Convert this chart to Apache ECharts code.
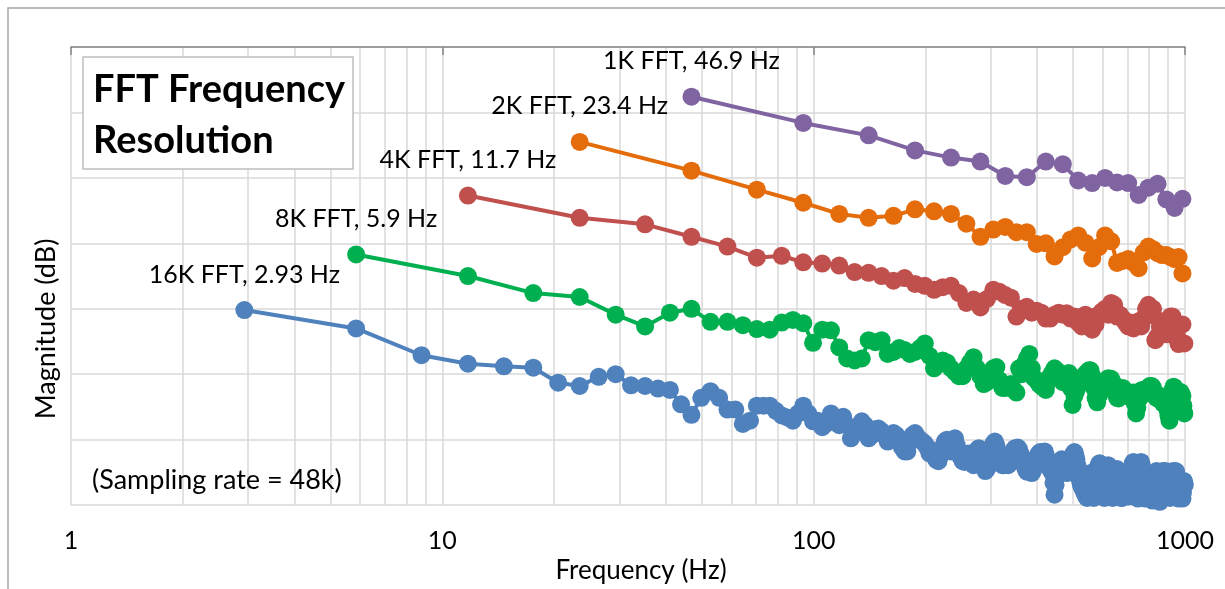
<!DOCTYPE html>
<html>
<head>
<meta charset="utf-8">
<script src="https://cdn.jsdelivr.net/npm/echarts@6/dist/echarts.min.js"></script>
<style>
  html, body { margin: 0; padding: 0; background: #fff; }
  #container { width: 1225px; height: 589px; }
</style>
</head>
<body>
<div id="container"></div>
<script>
var dom = document.getElementById("container");
var myChart = echarts.init(dom);

// FFT sizes, labels and bin widths (Hz)
var fftNames = ['16K FFT, 2.93 Hz', '8K FFT, 5.9 Hz', '4K FFT, 11.7 Hz', '2K FFT, 23.4 Hz', '1K FFT, 46.9 Hz'];
var binWidths = [2.9296875, 5.859375, 11.71875, 23.4375, 46.875];

// magnitudes (dB) per bin
var mag16k = [
  -40.2,-43.0,-47.1,-48.4,-48.8,-49.0,-51.3,-51.8,-50.4,-50.0,
  -51.7,-51.8,-52.2,-52.4,-54.6,-56.2,-53.6,-52.6,-53.6,-55.4,
  -55.4,-57.6,-57.1,-54.8,-54.8,-54.8,-55.6,-56.3,-56.6,-57.1,
  -56.0,-54.8,-56.0,-57.2,-57.1,-58.1,-57.5,-56.0,-56.6,-57.8,
  -56.5,-57.8,-59.8,-59.0,-58.1,-57.2,-57.8,-59.8,-59.3,-58.4,
  -58.3,-58.7,-59.3,-60.3,-59.6,-59.0,-59.3,-60.3,-61.2,-61.8,
  -61.8,-60.3,-59.3,-59.0,-59.6,-60.0,-60.3,-60.6,-61.2,-62.1,
  -61.6,-62.4,-63.1,-63.3,-62.4,-61.2,-60.3,-60.0,-60.9,-61.8,
  -60.3,-59.8,-60.9,-62.1,-62.7,-63.3,-63.4,-62.7,-62.1,-62.8,
  -63.3,-63.9,-62.7,-61.6,-61.3,-62.1,-63.6,-64.2,-64.8,-64.5,
  -63.9,-62.7,-61.6,-60.6,-60.3,-60.9,-61.8,-62.7,-63.6,-63.9,
  -63.9,-63.6,-63.3,-63.9,-63.6,-62.7,-62.1,-61.6,-61.3,-61.8,
  -61.2,-61.5,-62.1,-62.7,-63.3,-63.9,-64.5,-64.9,-64.8,-64.2,
  -64.5,-65.1,-64.8,-63.9,-63.3,-62.7,-62.4,-62.1,-61.9,-62.4,
  -62.7,-62.1,-61.8,-62.4,-63.0,-63.9,-64.2,-64.5,-64.8,-65.1,
  -66.6,-68.4,-66.9,-64.8,-63.9,-63.6,-63.3,-63.3,-63.0,-63.3,
  -63.9,-64.2,-64.6,-65.1,-64.8,-64.2,-63.6,-63.0,-62.7,-62.4,
  -62.1,-61.9,-62.4,-63.0,-63.9,-65.1,-65.7,-66.3,-66.9,-67.2,
  -67.5,-67.8,-68.1,-68.4,-68.7,-68.9,-68.1,-66.9,-65.7,-65.1,
  -66.0,-67.2,-68.4,-68.9,-68.1,-66.9,-65.7,-64.8,-64.2,-63.9,
  -63.6,-63.9,-64.5,-65.4,-66.6,-67.8,-68.9,-68.4,-67.2,-66.0,
  -64.8,-63.9,-64.2,-65.1,-66.3,-67.5,-68.4,-68.9,-68.1,-67.2,
  -66.3,-65.4,-64.8,-64.5,-65.1,-66.0,-66.9,-67.8,-68.4,-68.9,
  -68.9,-68.7,-68.1,-67.2,-66.3,-65.7,-66.3,-67.5,-68.4,-68.7,
  -68.1,-66.9,-65.7,-64.8,-64.5,-64.2,-63.6,-63.4,-63.9,-64.8,
  -66.0,-67.2,-68.1,-68.7,-69.0,-68.1,-66.6,-65.1,-63.9,-63.4,
  -63.9,-64.8,-66.0,-67.5,-68.7,-69.0,-68.4,-67.5,-66.6,-66.9,
  -67.2,-66.9,-66.3,-66.6,-67.5,-68.1,-68.7,-69.2,-69.3,-69.0,
  -68.4,-67.5,-66.6,-65.7,-65.1,-64.8,-65.7,-66.9,-68.1,-69.0,
  -69.3,-69.5,-69.0,-68.1,-66.9,-65.7,-65.1,-64.8,-64.9,-65.4,
  -65.1,-64.8,-64.9,-65.4,-66.0,-66.6,-67.2,-67.8,-68.4,-68.7,
  -68.9,-68.4,-67.5,-66.6,-65.7,-65.1,-64.8,-65.1,-65.7,-66.6,
  -65.1,-64.8,-64.9,-65.7,-66.9,-68.1,-68.9,-69.0,-68.4,-67.8,
  -67.2,-66.6,-67.5,-68.4,-68.9,-69.0,-68.1,-66.9,-66.3,-66.6,-66.9
];
var mag8k = [
  -31.7,-35.0,-37.6,-38.2,-40.9,-42.7,-40.6,-40.0,-42.0,-42.0,
  -42.5,-43.1,-43.2,-42.1,-41.7,-42.2,-45.2,-43.2,-43.3,-45.9,
  -47.6,-47.9,-47.6,-44.8,-45.1,-44.8,-46.9,-46.6,-46.0,-46.3,
  -46.9,-46.6,-46.0,-45.3,-47.2,-49.1,-48.5,-47.9,-48.2,-49.1,
  -49.7,-50.3,-50.3,-49.1,-48.2,-47.4,-49.1,-50.3,-51.5,-51.2,
  -50.0,-49.1,-48.9,-50.9,-52.1,-52.1,-51.8,-51.5,-52.4,-52.8,
  -49.1,-50.0,-48.5,-47.6,-46.9,-49.1,-50.6,-50.9,-51.5,-51.8,
  -52.1,-52.4,-51.2,-50.3,-49.7,-49.1,-49.4,-50.0,-50.6,-51.2,
  -50.6,-50.0,-49.8,-52.1,-54.7,-53.3,-52.5,-51.8,-51.2,-50.6,
  -50.3,-50.0,-49.7,-49.4,-49.4,-50.3,-52.1,-53.6,-54.3,-53.3,
  -52.4,-51.8,-51.5,-51.2,-50.9,-50.6,-50.9,-50.7,-51.2,-52.1,
  -53.0,-53.6,-53.7,-53.3,-52.7,-52.1,-52.7,-53.3,-53.0,-52.7,
  -53.0,-53.3,-53.0,-52.8,-54.5,-56.0,-55.1,-53.9,-53.0,-52.5,
  -52.4,-52.5,-53.0,-52.7,-52.4,-52.1,-51.8,-52.1,-51.8,-52.1,
  -52.7,-53.3,-53.6,-53.7,-53.6,-53.3,-53.9,-54.2,-54.5,-54.5,
  -54.2,-54.5,-55.4,-56.3,-57.1,-56.0,-53.9,-52.4,-51.9,-52.1,
  -52.4,-52.7,-53.0,-53.3,-53.0,-52.7,-53.0,-53.3,-54.8,-56.0
];
var mag4k = [
  -22.7,-26.1,-27.1,-29.0,-30.5,-32.2,-31.9,-32.9,-33.1,-33.4,
  -34.4,-34.5,-35.0,-35.7,-35.3,-36.2,-36.5,-37.1,-36.7,-36.5,
  -37.6,-39.1,-38.6,-39.8,-38.5,-37.1,-37.4,-37.9,-38.3,-41.2,
  -40.0,-39.7,-40.6,-40.3,-40.6,-41.5,-41.5,-40.9,-40.6,-40.9,
  -40.7,-41.5,-41.2,-42.1,-42.7,-40.9,-41.9,-43.2,-42.4,-40.9,
  -40.4,-40.0,-40.9,-39.1,-39.4,-41.2,-40.9,-41.5,-42.1,-42.7,
  -42.1,-43.0,-42.4,-41.9,-42.7,-41.5,-40.0,-39.4,-40.9,-40.0,
  -44.8,-44.2,-42.7,-41.9,-43.3,-43.9,-42.7,-41.2,-41.2,-42.1,
  -44.5,-45.4,-45.0,-42.4,-45.3
];
var mag2k = [
  -14.5,-18.9,-21.8,-23.8,-25.5,-26.1,-25.8,-24.8,-25.1,-25.5,
  -27.0,-29.0,-27.9,-27.5,-28.3,-28.3,-30.1,-30.0,-32.0,-30.6,
  -29.4,-28.8,-29.9,-32.3,-30.6,-28.8,-29.7,-33.0,-32.7,-32.4,
  -33.0,-33.8,-31.4,-30.5,-30.9,-31.5,-31.8,-31.8,-32.1,-32.4,
  -32.1,-34.6
];
var mag1k = [
  -7.6,-11.6,-13.5,-15.8,-16.9,-17.5,-19.7,-19.9,-17.5,-17.9,
  -20.4,-20.8,-20.0,-20.7,-20.8,-22.6,-21.5,-20.9,-23.3,-24.6,
  -23.2
];
var magnitudes = [mag16k, mag8k, mag4k, mag2k, mag1k];

// minor vertical grid lines of the log axis
var minorFreqs = [2,3,4,5,6,7,8,9,20,30,40,50,60,70,80,90,200,300,400,500,600,700,800,900];

var colors = ['#4F81BD', '#00B050', '#C0504D', '#E46C0A', '#8064A2'];
var fontFamily = 'Lato, "Open Sans", sans-serif';

function makePoints(bin, mags) {
    return mags.map(function (m, i) {
        return [bin * (i + 1), m];
    });
}

// grid lines at 2..9 of every decade, kept under the data
var series = [{
    type: 'line',
    data: [],
    silent: true,
    z: 0,
    markLine: {
        silent: true,
        z: 0,
        symbol: ['none', 'none'],
        label: { show: false },
        lineStyle: { color: '#d9d9d9', width: 1.5, type: 'solid' },
        emphasis: { disabled: true },
        animation: false,
        data: minorFreqs.map(function (f) { return { xAxis: f }; })
    }
}];

for (var i = 0; i < fftNames.length; i++) {
    var pts = makePoints(binWidths[i], magnitudes[i]);
    series.push({
        name: fftNames[i],
        type: 'line',
        z: 3,
        data: pts,
        showSymbol: false,
        lineStyle: { color: colors[i], width: 4 },
        emphasis: { disabled: true }
    });
    // markers, the first one carries the FFT label
    var dots = pts.map(function (p, j) {
        if (j === 0) {
            return {
                value: p,
                label: {
                    show: true,
                    position: 'top',
                    distance: 14,
                    formatter: fftNames[i],
                    color: '#000',
                    fontFamily: fontFamily,
                    fontSize: 25
                }
            };
        }
        return p;
    });
    series.push({
        name: fftNames[i],
        type: 'scatter',
        z: 4,
        data: dots,
        symbol: 'circle',
        symbolSize: 18,
        itemStyle: { color: colors[i], opacity: 1, borderWidth: 0 },
        emphasis: { disabled: true }
    });
}

option = {
    animation: false,
    grid: { left: 71, right: 40, top: 47, bottom: 79 },
    xAxis: {
        type: 'log',
        logBase: 10,
        min: 1,
        max: 1000,
        name: 'Frequency (Hz)',
        nameLocation: 'middle',
        nameGap: 45,
        nameTextStyle: { color: '#000', fontFamily: fontFamily, fontSize: 26, padding: [0, 0, 0, 26] },
        axisLine: { show: true, lineStyle: { color: '#868686', width: 1.5 } },
        axisTick: { show: true, length: 8, lineStyle: { color: '#868686', width: 1.5 } },
        axisLabel: {
            color: '#000', fontFamily: fontFamily, fontSize: 25, margin: 23,
            formatter: function (v) { return String(v); }
        },
        splitLine: { show: true, lineStyle: { color: '#d9d9d9', width: 1.5 } }
    },
    yAxis: {
        type: 'value',
        min: -70,
        max: 0,
        interval: 10,
        axisLine: { show: false },
        axisTick: { show: false },
        axisLabel: { show: false },
        splitLine: { show: true, lineStyle: { color: '#d9d9d9', width: 1.5 } }
    },
    graphic: [
        {
            type: 'rect',
            z: -10,
            silent: true,
            shape: { x: 8, y: 8, width: 1240, height: 620 },
            style: { fill: 'none', stroke: '#a6a6a6', lineWidth: 1.5 }
        },
        {
            type: 'text',
            x: 46, y: 329,
            rotation: Math.PI / 2,
            style: {
                text: 'Magnitude (dB)',
                fill: '#000',
                font: '27px ' + fontFamily,
                textAlign: 'center',
                textVerticalAlign: 'middle'
            }
        },
        {
            type: 'rect',
            z: 50,
            shape: { x: 83, y: 57, width: 270, height: 112 },
            style: { fill: '#fff', stroke: '#bfbfbf', lineWidth: 1.5 }
        },
        {
            type: 'text',
            z: 51,
            x: 93, y: 90,
            style: {
                text: 'FFT Frequency',
                fill: '#000',
                font: 'bold 38px ' + fontFamily,
                textAlign: 'left',
                textVerticalAlign: 'middle'
            }
        },
        {
            type: 'text',
            z: 51,
            x: 93, y: 141,
            style: {
                text: 'Resolution',
                fill: '#000',
                font: 'bold 38px ' + fontFamily,
                textAlign: 'left',
                textVerticalAlign: 'middle'
            }
        },
        {
            type: 'text',
            z: 51,
            x: 92, y: 480,
            style: {
                text: '(Sampling rate = 48k)',
                fill: '#000',
                font: '27px ' + fontFamily,
                textAlign: 'left',
                textVerticalAlign: 'middle'
            }
        }
    ],
    series: series
};

myChart.setOption(option, true);
</script>
</body>
</html>
